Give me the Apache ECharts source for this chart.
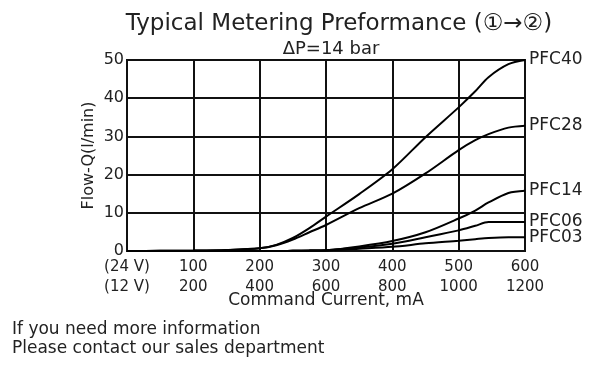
<!DOCTYPE html>
<html><head><meta charset="utf-8">
<script src="https://cdn.jsdelivr.net/npm/echarts@6/dist/echarts.min.js"></script>
<style>html,body{margin:0;padding:0;background:#fff}#c{width:600px;height:369px}</style>
</head><body><div id="c"></div>
<script>
const currentX = [0, 50, 100, 150, 200, 225, 250, 275, 300, 350, 400, 450, 500, 525, 545, 575, 600];
const pfc40 = [0, 0.05, 0.1, 0.25, 0.7, 1.6, 3.4, 6.0, 9.0, 14.9, 21.4, 29.8, 37.6, 41.8, 45.5, 48.9, 50];
const pfc28 = [0, 0.05, 0.1, 0.25, 0.7, 1.5, 3.0, 4.9, 6.8, 11.2, 15.0, 20.3, 26.4, 29.0, 30.6, 32.3, 32.8];
const pfc14 = [0, 0, 0, 0, 0, 0, 0.05, 0.1, 0.2, 1.2, 2.6, 4.9, 8.5, 10.6, 12.7, 15.2, 15.8];
const pfc06 = [0, 0, 0, 0, 0, 0, 0.05, 0.1, 0.2, 0.9, 1.9, 3.6, 5.4, 6.6, 7.6, 7.6, 7.6];
const pfc03 = [0, 0, 0, 0, 0, 0, 0.05, 0.1, 0.15, 0.6, 1.1, 2.0, 2.7, 3.1, 3.4, 3.6, 3.6];
const seriesNames = ['PFC40', 'PFC28', 'PFC14', 'PFC06', 'PFC03'];
const seriesValues = [pfc40, pfc28, pfc14, pfc06, pfc03];
const xTop = ['(24 V)', '100', '200', '300', '400', '500', '600'];
const xBottom = ['(12 V)', '200', '400', '600', '800', '1000', '1200'];
const yTicks = [0, 10, 20, 30, 40, 50];

const FONT = 'DejaVu Sans';
const TXT = '#222';
const chart = echarts.init(document.getElementById('c'));
chart.setOption({
  animation: false,
  textStyle: {fontFamily: FONT},
  title: [
    {text: 'Typical Metering Preformance (\u2460\u2192\u2461)', left: 334, top: 8, textAlign: 'center',
     textStyle: {fontFamily: FONT, fontSize: 23, fontWeight: 'normal', color: TXT}},
    {text: '\u0394P=14 bar', left: 326, top: 35, textAlign: 'center',
     textStyle: {fontFamily: FONT, fontSize: 18, fontWeight: 'normal', color: TXT}}
  ],
  grid: {left: 127, right: 75, top: 60, bottom: 118, show: true, borderColor: '#111', borderWidth: 2},
  xAxis: {
    type: 'value', min: 0, max: 600, interval: 100,
    name: 'Command Current, mA', nameLocation: 'middle', nameGap: 41, nameMoveOverlap: false,
    nameTextStyle: {fontFamily: FONT, fontSize: 17, color: TXT},
    axisLine: {lineStyle: {color: '#111', width: 2}},
    axisTick: {show: false},
    splitLine: {show: true, lineStyle: {color: '#111', width: 2}},
    axisLabel: {
      margin: 6, fontFamily: FONT, fontSize: 15, color: TXT, lineHeight: 20,
      formatter: function (v) { const i = Math.round(v / 100); return xTop[i] + '\n' + xBottom[i]; }
    }
  },
  yAxis: {
    type: 'value', min: yTicks[0], max: yTicks[yTicks.length - 1], interval: 10,
    name: 'Flow-Q(l/min)', nameLocation: 'middle', nameGap: 30, nameMoveOverlap: false,
    nameTextStyle: {fontFamily: FONT, fontSize: 16, color: TXT},
    axisLine: {lineStyle: {color: '#111', width: 2}},
    axisTick: {show: false},
    splitLine: {show: true, lineStyle: {color: '#111', width: 2}},
    axisLabel: {margin: 3, fontFamily: FONT, fontSize: 16, color: TXT}
  },
  graphic: [
    {type: 'text', left: 12, top: 320, style: {text: 'If you need more information\nPlease contact our sales department',
      font: '17px "DejaVu Sans"', fill: TXT, lineHeight: 19}}
  ],
  series: seriesNames.map((n, k) => ({
    name: n, type: 'line', showSymbol: false, smooth: 0.3,
    lineStyle: {color: '#000', width: 2},
    data: currentX.map((x, i) => [x, seriesValues[k][i]]),
    endLabel: {show: true, formatter: n, distance: 4, fontFamily: FONT, fontSize: 17, color: TXT}
  }))
});
</script></body></html>
